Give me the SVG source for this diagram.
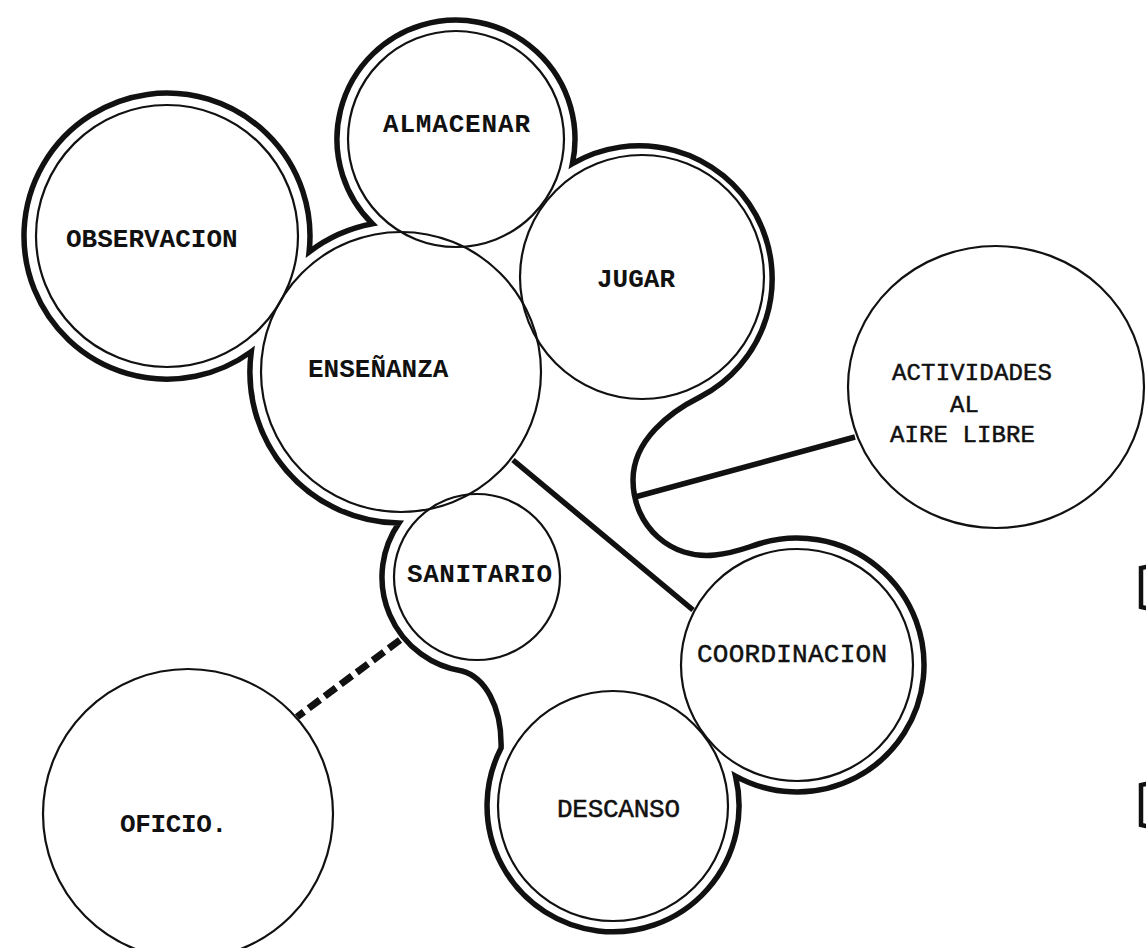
<svg xmlns="http://www.w3.org/2000/svg" width="1146" height="948" viewBox="0 0 1146 948">
<style>
.bg{fill:#ffffff}
.c{fill:none;stroke:#111;stroke-width:2.2}
.env{fill:none;stroke:#111;stroke-width:5.5;stroke-linejoin:miter}
.ln{fill:none;stroke:#111;stroke-width:5.5}
.dash{fill:none;stroke:#111;stroke-width:7;stroke-dasharray:14 6}
.t{font-family:"Liberation Mono","Courier New",monospace;font-size:26px;fill:#111}
.b{font-weight:bold}
.n{font-weight:normal;stroke:#111;stroke-width:0.5}
.s{font-size:24px}
.mk{fill:none;stroke:#111;stroke-width:4.5;stroke-linecap:round}
</style>
<rect class="bg" width="1146" height="948"/>
<g id="envelope">
<path class="env" d="M251.3,351.6 A143,143 0 1 1 309.1,252 A151,151 0 0 1 372.4,223.8 A119,119 0 1 1 572.4,163.7 A133,133 0 1 1 700,397 C670,412 633,440 633,480 C633,527 672,560 715,555 C735,553 745,548 760,543.5 A127,127 0 1 1 735.5,776.1 A126,126 0 1 1 501.1,748 C502,705 484,677 462,671 A95,95 0 0 1 398.9,523.1 A151,151 0 0 1 251.3,351.6 Z"/>
</g>
<g id="connectors">
<line class="ln" x1="513" y1="460" x2="693" y2="610"/>
<line class="ln" x1="635" y1="497" x2="855" y2="437"/>
<line class="dash" x1="400" y1="640" x2="297" y2="717"/>
</g>
<g id="observacion"><circle class="c" cx="167" cy="236" r="131"/><text class="t b" x="66" y="247">OBSERVACION</text></g>
<g id="almacenar"><circle class="c" cx="456" cy="139" r="108"/><text class="t b" x="383" y="132" textLength="147">ALMACENAR</text></g>
<g id="jugar"><circle class="c" cx="642" cy="277" r="122"/><text class="t b" x="597" y="287">JUGAR</text></g>
<g id="ensenanza"><circle class="c" cx="401" cy="372" r="140"/><text class="t b" x="308" y="377">ENSEÑANZA</text></g>
<g id="sanitario"><circle class="c" cx="477" cy="577" r="83"/><text class="t b" x="407" y="582" textLength="145">SANITARIO</text></g>
<g id="coordinacion"><circle class="c" cx="797" cy="665" r="116"/><text class="t n" x="697" y="662" textLength="190">COORDINACION</text></g>
<g id="descanso"><circle class="c" cx="613" cy="806" r="115"/><text class="t n" x="557" y="817" textLength="123">DESCANSO</text></g>
<g id="actividades"><ellipse class="c" cx="996" cy="387" rx="148" ry="141"/>
<text class="t n s" x="892" y="380" textLength="160">ACTIVIDADES</text>
<text class="t n s" x="950" y="412">AL</text>
<text class="t n s" x="890" y="442" textLength="145">AIRE LIBRE</text></g>
<g id="oficio"><circle class="c" cx="188" cy="814" r="145"/><text class="t b" x="120" y="832" textLength="107">OFICIO.</text></g>
<g id="marks">
<path class="mk" d="M1146,567 L1141,568 L1141,607 L1146,608"/>
<path class="mk" d="M1146,784 L1141,785 L1141,825 L1146,826"/>
</g>
</svg>
